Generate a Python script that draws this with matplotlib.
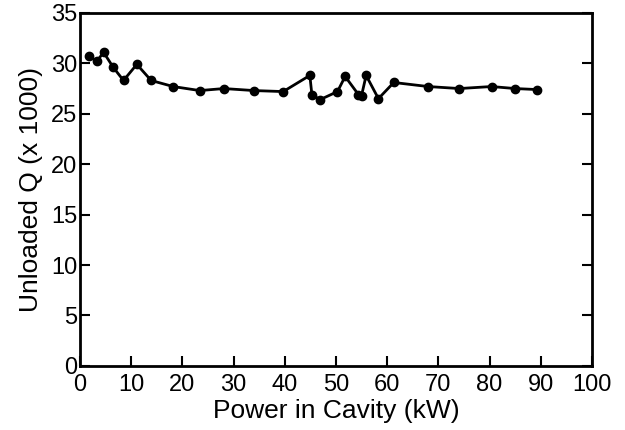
import matplotlib
matplotlib.use("Agg")
import matplotlib.pyplot as plt

power_kw = [1.8, 3.3, 4.6, 6.5, 8.5, 11.1, 13.9, 18.2, 23.4, 28.1, 34.0, 39.7,
            44.9, 45.3, 46.9, 50.3, 51.8, 54.4, 55.0, 55.9, 58.3, 61.3, 68.0,
            74.1, 80.4, 85.0, 89.3]
unloaded_q = [30.7, 30.2, 31.1, 29.6, 28.3, 29.9, 28.3, 27.7, 27.3, 27.5, 27.3, 27.2,
              28.8, 26.9, 26.4, 27.2, 28.7, 26.9, 26.8, 28.8, 26.5, 28.1, 27.7,
              27.5, 27.7, 27.5, 27.4]
x_ticks = list(range(0, 101, 10))
y_ticks = list(range(0, 36, 5))

plt.rcParams['font.family'] = ['Liberation Sans', 'DejaVu Sans']

fig = plt.figure(figsize=(6.25, 4.3), dpi=100)
ax = fig.add_axes([0.128, 0.149, 0.819, 0.821])
ax.plot(power_kw, unloaded_q, color="black", lw=2, marker="o", ms=6)

ax.set_xlim(0, 100)
ax.set_ylim(0, 35)
ax.set_xticks(x_ticks)
ax.set_yticks(y_ticks)
ax.tick_params(direction="in", length=7, width=1.5, labelsize=17,
               right=True, top=False)
ax.tick_params(axis="x", pad=6)
ax.tick_params(axis="y", pad=2)
for s in ax.spines.values():
    s.set_linewidth(2)
ax.set_xlabel("Power in Cavity (kW)", fontsize=19, labelpad=2)
ax.set_ylabel("Unloaded Q (x 1000)", fontsize=19, labelpad=6)

fig.savefig("out.png", dpi=100)
